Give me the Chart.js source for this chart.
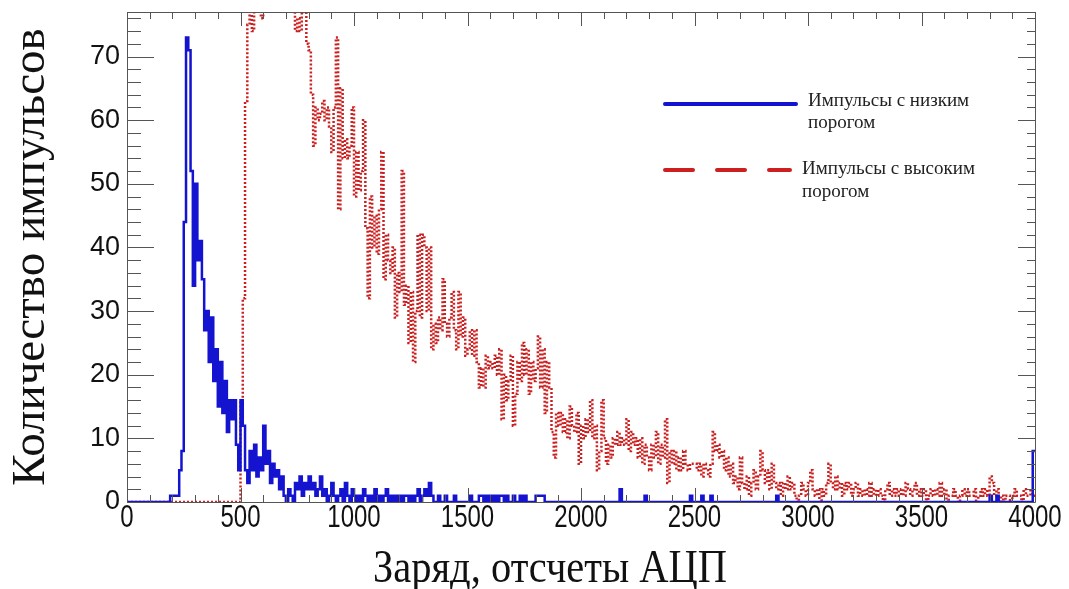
<!DOCTYPE html>
<html>
<head>
<meta charset="utf-8">
<script src="https://cdn.jsdelivr.net/npm/chart.js@4.4.1/dist/chart.umd.min.js"></script>
<style>
  html, body { margin: 0; padding: 0; background: #fff; }
  canvas { display: block; }
</style>
</head>
<body>
<canvas id="histChart" width="1069" height="589"></canvas>
<script>
// Bin width in ADC counts, axis ranges
const binWidth = 10;
const xMax = 4000;
const yMax = 77;
const xTitle = 'Заряд, отсчеты АЦП';
const yTitle = 'Количество импульсов';

const seriesNames = ['Импульсы с низким порогом', 'Импульсы с высоким порогом'];

// Low threshold pulses, one value per 10-count bin (0..3990)
const lowCounts = [
  0,0,0,0,0,0,0,0,0,0, 0,0,0,0,0,0,0,0,0,1,
  1,1,1,5,8,44,73,71,52,34, 50,38,41,35,27,30,22,29,19,24,
  15,22,14,19,11,16,13,16,9,5, 16,12,5,3,8,5,9,4,7,5,
  12,6,8,3,6,4,5,2,4,1, 0,2,1,0,3,2,4,1,3,2,
  4,2,3,1,2,4,1,2,0,1, 3,1,0,1,2,0,3,1,0,2,
  1,0,1,0,2,1,0,1,0,2, 0,1,0,1,2,0,1,0,1,0,
  1,0,1,1,0,1,0,1,2,0, 1,2,1,3,1,0,0,1,0,0,
  1,0,0,0,1,0,0,0,0,0, 0,1,0,0,0,1,1,0,1,0,
  1,0,1,0,1,1,0,1,0,0, 1,0,0,1,0,1,0,0,0,0,
  1,1,1,1,0,0,0,0,0,0, 0,0,0,0,0,0,0,0,0,0,
  0,0,0,0,0,0,0,0,0,0, 0,0,0,0,0,0,0,2,0,0,
  0,0,0,0,0,0,0,0,1,0, 0,0,0,0,0,0,0,0,0,0,
  0,0,0,0,0,0,0,0,1,0, 0,0,0,1,0,0,0,1,0,0,
  0,0,0,0,0,0,0,0,0,0, 0,0,0,0,0,0,0,0,0,0,
  0,0,0,0,0,0,1,0,0,0, 0,0,0,0,0,0,0,0,0,0,
  0,0,0,0,0,0,0,0,0,0, 0,0,0,0,0,0,0,0,0,0,
  0,0,0,0,0,0,0,0,0,0, 0,0,0,0,0,0,0,0,0,0,
  0,0,0,0,0,0,0,0,0,0, 0,0,0,0,0,0,0,0,0,0,
  0,0,0,0,0,0,0,0,0,0, 0,0,0,0,0,0,0,0,0,0,
  1,0,0,1,0,0,0,0,0,0, 0,0,0,0,0,0,0,0,0,8
];

// High threshold pulses, one value per 10-count bin (0..3990)
const highCounts = [
  0,0,0,0,0,0,0,0,0,0, 0,0,0,0,0,0,0,0,0,0,
  0,0,0,0,0,0,0,0,0,0, 0,0,0,0,0,0,0,0,0,0,
  0,0,0,0,0,0,0,0,0,0, 16,32,63,75,80,74,79,82,84,76,
  84,86,88,85,87,84,82,85,83,86, 84,82,85,80,74,76,74,78,77,72,
  71,64,56,62,60,61,63,60,62,59, 55,62,73,46,65,54,57,54,56,62,
  48,55,49,52,60,43,32,48,40,45, 39,46,55,35,42,38,36,40,29,36,
  33,52,31,34,25,33,22,30,42,29, 42,40,30,40,24,28,25,29,27,35,
  28,26,29,33,27,24,33,26,29,23, 24,27,23,27,22,18,21,18,23,21,
  22,21,23,20,24,13,20,16,19,23, 12,17,22,19,25,20,24,17,22,19,
  21,26,18,24,14,22,18,11,7,14, 12,14,11,13,10,15,12,11,14,6,
  12,10,13,11,16,10,12,5,8,16, 10,6,9,7,10,9,11,9,10,9,
  13,8,11,9,10,7,10,6,9,7, 5,9,7,11,6,9,7,13,3,8,
  6,8,5,7,5,8,6,5,6,6, 6,5,6,4,6,5,4,6,11,8,
  9,7,8,5,7,4,6,3,4,2, 7,3,2,4,1,3,5,2,4,8,
  5,3,5,2,6,3,2,3,1,3, 2,4,2,3,1,0,1,3,2,1,
  3,5,2,1,2,0,2,1,3,6, 3,2,4,2,3,1,3,2,3,1,
  2,3,1,2,1,2,1,3,1,2, 1,2,1,0,2,3,1,2,1,2,
  1,2,1,3,2,1,2,3,1,2, 1,2,0,1,2,1,2,1,3,1,
  2,0,1,1,2,1,0,1,2,1, 2,1,1,2,0,1,2,1,2,1,
  4,3,1,2,0,1,0,1,1,0, 1,2,1,1,0,2,1,1,2,1
];

// left bin edges + closing point, drawn as a step line
function toSteps(counts) {
  const pts = counts.map((c, i) => ({ x: i * binWidth, y: c }));
  pts.push({ x: counts.length * binWidth, y: counts[counts.length - 1] });
  return pts;
}

const blue = '#1414d0';
const red = '#cc1f1f';

// frame with inward ticks on all four sides
const frameTicks = {
  id: 'frameTicks',
  afterDatasetsDraw(chart) {
    const { ctx, chartArea: a, scales: { x, y } } = chart;
    ctx.save();
    ctx.strokeStyle = '#555';
    ctx.lineWidth = 1;
    ctx.beginPath();
    ctx.rect(a.left + 0.5, a.top + 0.5, a.right - a.left, a.bottom - a.top);
    for (let v = 0; v <= xMax; v += 100) {
      const px = Math.round(x.getPixelForValue(v)) + 0.5;
      const len = v % 500 === 0 ? 14 : 7;
      ctx.moveTo(px, a.bottom); ctx.lineTo(px, a.bottom - len);
      ctx.moveTo(px, a.top); ctx.lineTo(px, a.top + len);
    }
    for (let v = 0; v <= yMax; v += 2) {
      const py = Math.round(y.getPixelForValue(v)) + 0.5;
      const major = v % 10 === 0;
      ctx.moveTo(a.left, py); ctx.lineTo(a.left + (major ? 27 : 14), py);
      ctx.moveTo(a.right, py); ctx.lineTo(a.right - (major ? 17 : 8), py);
    }
    ctx.stroke();
    ctx.restore();
  }
};

// condensed x tick labels and x title, legend box
const labelsAndLegend = {
  id: 'labelsAndLegend',
  afterDraw(chart) {
    const ctx = chart.ctx;
    const x = chart.scales.x;
    ctx.save();
    ctx.fillStyle = '#111';
    ctx.textAlign = 'center';
    ctx.textBaseline = 'middle';
    ctx.font = '32px "Liberation Sans", sans-serif';
    x.ticks.forEach(t => {
      ctx.save();
      ctx.translate(x.getPixelForValue(t.value), 518);
      ctx.scale(0.75, 1);
      ctx.fillText(String(t.value), 0, 0);
      ctx.restore();
    });
    ctx.font = '46px "Liberation Serif", serif';
    ctx.save();
    ctx.translate(550, 570);
    ctx.scale(0.88, 1);
    ctx.fillText(xTitle, 0, 0);
    ctx.restore();

    ctx.lineCap = 'round';
    ctx.lineWidth = 4;
    ctx.strokeStyle = blue;
    ctx.beginPath(); ctx.moveTo(665, 104); ctx.lineTo(796, 104); ctx.stroke();
    ctx.strokeStyle = red;
    ctx.setLineDash([28, 24]);
    ctx.beginPath(); ctx.moveTo(665, 170); ctx.lineTo(790, 170); ctx.stroke();
    ctx.setLineDash([]);
    ctx.fillStyle = '#222';
    ctx.textAlign = 'left';
    ctx.font = '19px "Liberation Serif", serif';
    ctx.fillText('Импульсы с низким', 808, 101);
    ctx.fillText('порогом', 808, 123);
    ctx.fillText('Импульсы с высоким', 802, 169);
    ctx.fillText('порогом', 802, 192);
    ctx.restore();
  }
};

new Chart(document.getElementById('histChart'), {
  type: 'line',
  data: {
    datasets: [
      {
        label: seriesNames[0],
        data: toSteps(lowCounts),
        stepped: true,
        borderColor: blue,
        borderWidth: 2.5,
        pointRadius: 0,
        fill: false
      },
      {
        label: seriesNames[1],
        data: toSteps(highCounts),
        stepped: true,
        borderColor: red,
        borderWidth: 2.5,
        borderDash: [2, 2],
        pointRadius: 0,
        fill: false
      }
    ]
  },
  options: {
    responsive: false,
    animation: false,
    layout: { padding: { top: 12, right: 34, left: 0, bottom: 0 } },
    plugins: { legend: { display: false }, tooltip: { enabled: false } },
    scales: {
      x: {
        type: 'linear',
        min: 0,
        max: xMax,
        grid: { display: false, drawTicks: false },
        border: { display: false },
        ticks: { stepSize: 500, display: false },
        afterFit(scale) {
          scale.height = 87;
          scale.paddingLeft = 0;
          scale.paddingRight = 0;
        }
      },
      y: {
        min: 0,
        max: yMax,
        grid: { display: false, drawTicks: false },
        border: { display: false },
        ticks: {
          stepSize: 10,
          includeBounds: false,
          padding: 7,
          color: '#111',
          font: { family: '"Liberation Sans", sans-serif', size: 27 }
        },
        title: {
          display: true,
          text: yTitle,
          color: '#111',
          padding: { top: 8, bottom: 0 },
          font: { family: '"Liberation Serif", serif', size: 47, lineHeight: 1.0 }
        },
        afterFit(scale) {
          scale.width = 127;
          scale.paddingTop = 0;
          scale.paddingBottom = 0;
        }
      }
    }
  },
  plugins: [frameTicks, labelsAndLegend]
});
</script>
</body>
</html>
